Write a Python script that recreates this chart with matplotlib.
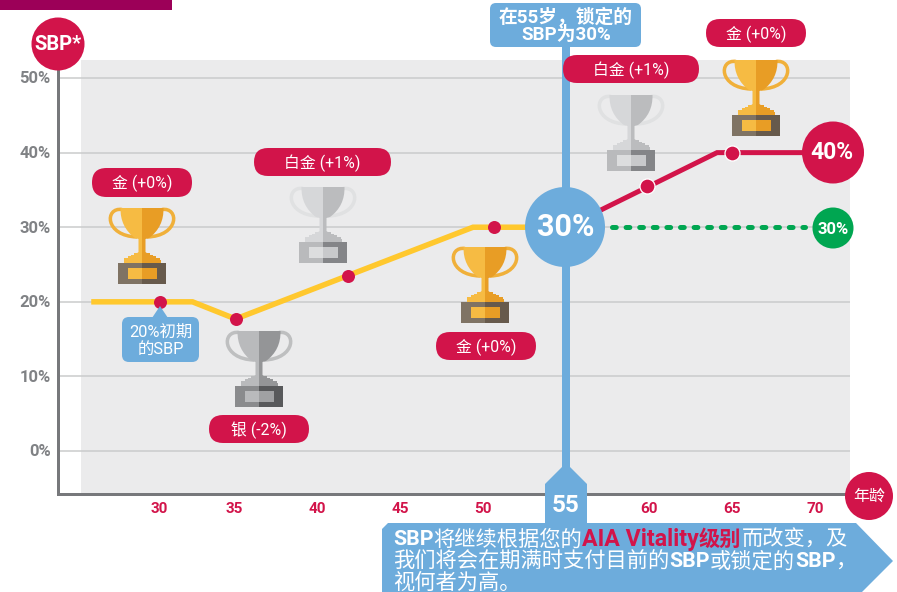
import matplotlib
matplotlib.use("Agg")
import matplotlib.pyplot as plt
from matplotlib.patches import Rectangle, Circle, FancyBboxPatch, Polygon, PathPatch
from matplotlib.path import Path
from matplotlib.transforms import Affine2D

plt.rcParams['font.family'] = ['Roboto', 'Noto Sans CJK SC', 'DejaVu Sans']

# chart values
y_ticks = [0, 10, 20, 30, 40, 50]
y_tick_labels = ['0%', '10%', '20%', '30%', '40%', '50%']
age_labels = [30, 35, 40, 45, 50, 60, 65, 70]
age_label_pos = [30.5, 35.0, 40.0, 45.0, 50.0, 60.0, 65.0, 70.0]

early_age = [26.4, 32.5, 35.1, 49.4, 53.5]
early_sbp = [20.0, 20.0, 17.7, 30.0, 30.0]
early_dot_age = [30.55, 35.1, 41.85, 50.65]
early_dot_sbp = [20.0, 17.7, 23.5, 30.0]

late_age = [55.0, 64.1, 70.5]
late_sbp = [30.0, 40.0, 40.0]
late_dot_age = [59.9, 65.0]
late_dot_sbp = [35.5, 40.0]

locked_age = [57.8, 69.4]
locked_sbp = [30.0, 30.0]

RED = '#D2144A'
BLUE = '#6DACDC'
GREEN = '#00A651'
YELLOW = '#FFC82E'
GREY = '#77787B'

GOLD = dict(l='#F6BB43', r='#E89D25', h='#F0B03A', bl='#7F7364', br='#675A4C', pl='#F6BB43', pr='#E89D25')
PLAT = dict(l='#D6D7D9', r='#BBBCBE', h='#E0E1E2', bl='#B9BABC', br='#848588', pl='#DCDDDE', pr='#C8C9CB')
SILV = dict(l='#B9BABC', r='#949597', h='#BEBFC0', bl='#8A8B8D', br='#58595B', pl='#B9BABC', pr='#A0A1A3')

fig = plt.figure(figsize=(8.97, 5.92), dpi=100)
ax = fig.add_axes([0, 0, 1, 1])
# 16.6 px per year, 7.46 px per percentage point
ax.set_xlim(20.904, 74.94)
ax.set_ylim(-18.9, 60.46)
ax.axis('off')

# picture furniture is placed in pixels from the top left
pxt = Affine2D().scale(1 / 897, -1 / 592).translate(0, 1) + fig.transFigure
PT = 72 / 100  # one pixel in points


def rect(x0, y0, x1, y1, color, z=2):
    ax.add_patch(Rectangle((x0, y0), x1 - x0, y1 - y0, fc=color, ec='none', transform=pxt, zorder=z))


def rounded(x0, y0, x1, y1, r, color, z=7):
    ax.add_patch(FancyBboxPatch((x0 + r, y0 + r), x1 - x0 - 2 * r, y1 - y0 - 2 * r,
                                boxstyle='round,pad=%f,rounding_size=%f' % (r, r),
                                fc=color, ec='none', transform=pxt, zorder=z))


def label(x, y, s, size, color='white', weight='normal', z=9, ha='center'):
    return ax.text(x, y + 1.5, s, fontsize=size, color=color, fontweight=weight, ha=ha, va='center',
                   transform=pxt, zorder=z)


def disc(x, y, r, color, z=7):
    ax.add_patch(Circle((x, y), r, fc=color, ec='none', transform=pxt, zorder=z))


def pill(x0, y0, x1, y1, s):
    rounded(x0, y0, x1, y1, (y1 - y0) / 2, RED)
    label((x0 + x1) / 2, (y0 + y1) / 2 - 0.5, s, 11.4)


def trophy(cx, top, c):
    # handles
    for side in (-1, 1):
        verts = [(cx + side * 20, top + 1.5), (cx + side * 37.5, top - 1), (cx + side * 37.5, top + 28),
                 (cx + side * 5, top + 29)]
        ax.add_patch(PathPatch(Path(verts, [Path.MOVETO, Path.CURVE4, Path.CURVE4, Path.CURVE4]),
                               fc='none', ec=c['h'], lw=3.5 * PT, transform=pxt, zorder=3))
    # cup and stem, two halves
    for side, col in ((-1, c['l']), (1, c['r'])):
        verts = [(cx, top), (cx + side * 21.5, top), (cx + side * 22, top + 19), (cx + side * 7, top + 30),
                 (cx + side * 3.5, top + 31), (cx + side * 3.5, top + 44), (cx + side * 6, top + 46),
                 (cx, top + 46), (cx, top)]
        codes = [Path.MOVETO, Path.LINETO, Path.CURVE3, Path.CURVE3, Path.LINETO, Path.LINETO, Path.LINETO,
                 Path.LINETO, Path.CLOSEPOLY]
        ax.add_patch(PathPatch(Path(verts, codes), fc=col, ec='none', transform=pxt, zorder=4))
        # stepped foot
        for dx, y0 in ((8, 45), (11, 47), (14, 48), (18, 50), (18.5, 52)):
            x0, x1 = sorted((cx, cx + side * dx))
            rect(x0, top + y0, x1, top + 55, col, z=4)
        x0, x1 = sorted((cx, cx + side * 24))
        rect(x0, top + 55, x1, top + 76, c['bl'] if side < 0 else c['br'], z=4)
        x0, x1 = sorted((cx, cx + side * 14.5))
        rect(x0, top + 59.5, x1, top + 71, c['pl'] if side < 0 else c['pr'], z=5)


# top banner cut off by the page edge
rect(0, 0, 172, 10, '#9C0058')

# plot panel, grid and axes
rect(81, 60, 850, 495, '#EBEBEC', z=1)
for v, s in zip(y_ticks, y_tick_labels):
    ax.plot([24.4, 72.1], [v, v], color='#C9CACB', lw=1.5 * PT, zorder=2, solid_capstyle='butt')
    ax.text(23.95, v - 0.13, s, color='#808285', fontsize=12, fontweight='bold', ha='right', va='center', zorder=8)
ax.plot([58, 58, 850], [60, 494, 494], color=GREY, lw=3 * PT, transform=pxt, zorder=3, solid_joinstyle='miter',
        solid_capstyle='butt')

for pos, a in zip(age_label_pos, age_labels):
    ax.text(pos, -7.8, str(a), color=RED, fontsize=11, fontweight='bold', ha='center', va='center', zorder=8)

# SBP lines
ax.plot(early_age, early_sbp, color=YELLOW, lw=5.5 * PT, zorder=4, solid_joinstyle='miter', solid_capstyle='butt')
ax.plot(early_dot_age, early_dot_sbp, 'o', color=RED, ms=13 * PT, mec='none', zorder=5)
ax.plot(late_age, late_sbp, color=RED, lw=5 * PT, zorder=4, solid_joinstyle='miter', solid_capstyle='butt')
ax.plot(late_dot_age, late_dot_sbp, 'o', color=RED, ms=15 * PT, mec='white', mew=1.3 * PT, zorder=5)
ax.plot(locked_age, locked_sbp, color=GREEN, lw=5 * PT, zorder=4, dash_capstyle='round',
        linestyle=(0, (0.75, 1.97)))

# trophies
trophy(142, 208, GOLD)
trophy(323, 187, PLAT)
trophy(259, 331, SILV)
trophy(485, 247, GOLD)
trophy(631, 95, PLAT)
trophy(756, 60, GOLD)

# age 55 lock-in marker, under the pills
rect(562, 40, 570, 480, BLUE, z=6)
rounded(490, 3, 641, 47, 6, BLUE)
label(566, 15.5, '在55岁，锁定的', 13.5, weight='bold')
label(566, 33, 'SBP为30%', 13.5, weight='bold')
disc(565, 227, 40, BLUE, z=7)
label(566, 226, '30%', 22, weight='bold')
ax.add_patch(Polygon([(562, 467), (570, 467), (587, 484), (587, 530), (545, 530), (545, 484)],
                     fc=BLUE, ec='none', transform=pxt, zorder=6))
label(566, 504, '55', 17.5, weight='bold')

# tier pills
pill(92, 168, 192, 197, '金 (+0%)')
pill(254, 148, 391, 176, '白金 (+1%)')
pill(563, 55, 699, 83, '白金 (+1%)')
pill(706, 19, 806, 47, '金 (+0%)')
pill(209, 415, 309, 443, '银 (-2%)')
pill(436, 332, 536, 360, '金 (+0%)')

# initial SBP callout
ax.add_patch(Polygon([(152, 318), (160, 306), (168, 318)], fc=BLUE, ec='none', transform=pxt, zorder=6))
rounded(122, 317, 199, 362, 7, BLUE)
label(160.5, 331, '20%初期', 11.8)
label(160.5, 348, '的SBP', 11.8)

# end and axis badges
disc(58, 44, 26.5, RED)
label(58, 43.5, 'SBP*', 14.5, weight='bold')
disc(833, 152.5, 31, RED)
label(832, 151, '40%', 16.5, weight='bold')
disc(833, 228, 20.5, GREEN)
label(833, 227.5, '30%', 12, weight='bold')
disc(869, 496, 24, RED)
label(869, 495, '年龄', 11.5)

# note arrow at the bottom
ax.add_patch(Polygon([(388, 523), (856, 523), (893, 561), (856, 598), (382, 598), (382, 529)],
                     fc=BLUE, ec='none', transform=pxt, zorder=6))
note = [
    (538, [('SBP', 'white', 'bold', 15.3), ('将继续根据您的', 'white', 'normal', 15.3),
           ('AIA Vitality', RED, 'bold', 16.7), ('级别', RED, 'bold', 15.3), ('而改变，及', 'white', 'normal', 15.3)]),
    (560, [('我们将会在期满时支付目前的', 'white', 'normal', 15.3), ('SBP', 'white', 'bold', 15.3),
           ('或锁定的', 'white', 'normal', 15.3), ('SBP', 'white', 'bold', 15.3), ('，', 'white', 'normal', 15.3)]),
    (581, [('视何者为高。', 'white', 'normal', 15.3)]),
]
renderer = fig.canvas.get_renderer()
for yy, runs in note:
    xx = 393
    for s, col, w, size in runs:
        t = label(xx, yy, s, size, color=col, weight=w, ha='left')
        xx += t.get_window_extent(renderer).width

fig.savefig('out.png', dpi=100)
